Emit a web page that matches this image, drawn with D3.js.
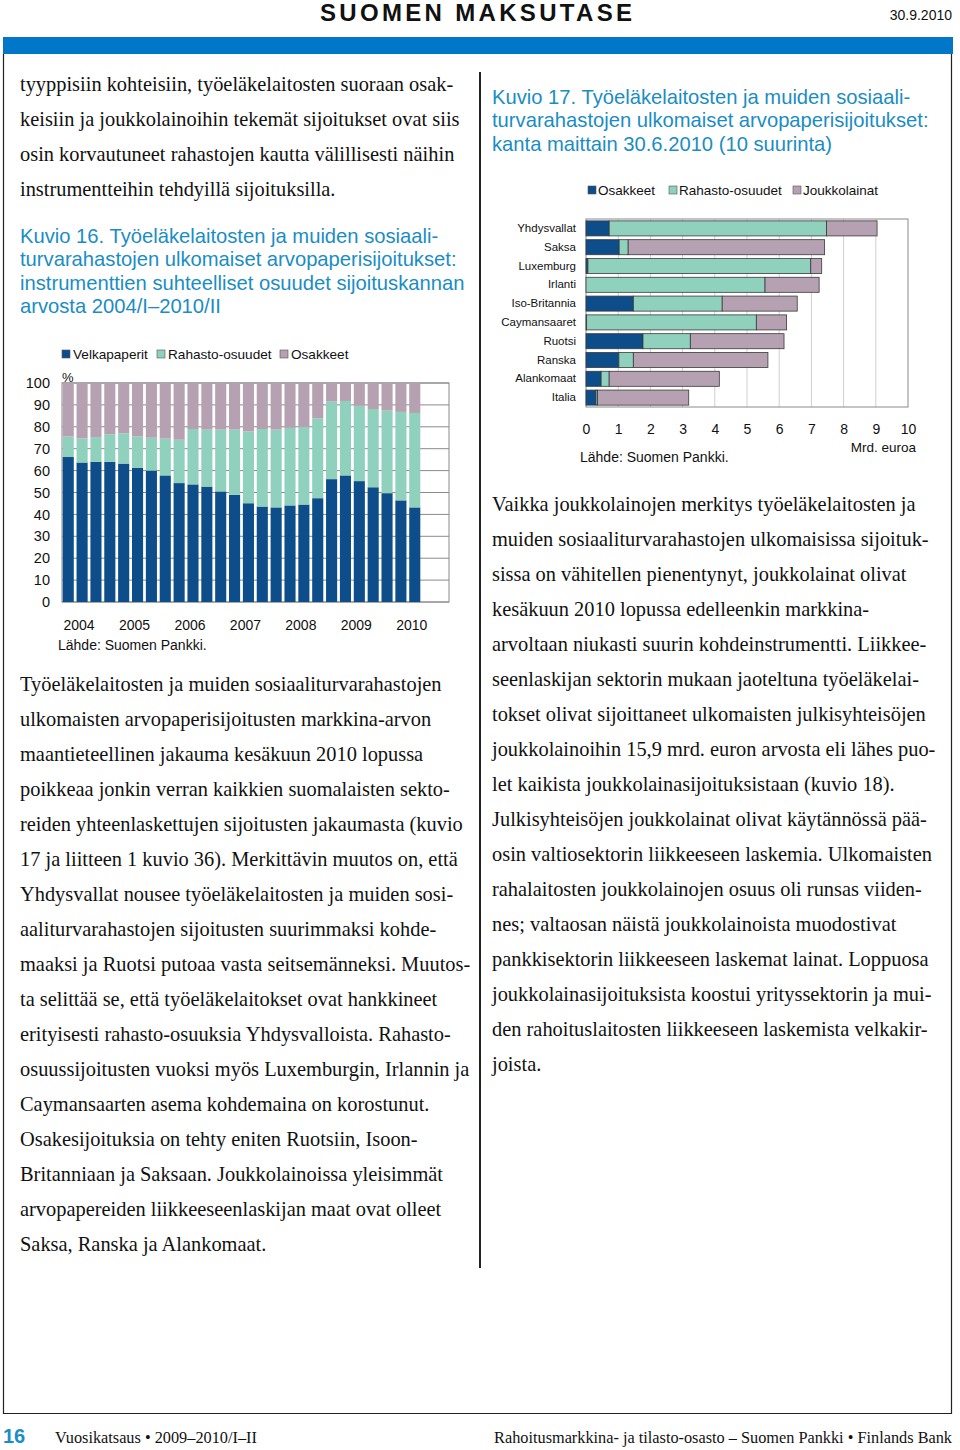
<!DOCTYPE html>
<html><head><meta charset="utf-8">
<script src="https://cdn.jsdelivr.net/npm/d3@7"></script>
<style>
body{margin:0;background:#fff;}
svg{display:block;}
.serif{font-family:"Liberation Serif","Times New Roman",serif;}
.sans{font-family:"Liberation Sans",Arial,sans-serif;}
</style></head>
<body>
<svg id="page" width="960" height="1450"></svg>
<script>
// ---------- DATA ----------
const quarters = ["2004/I","2004/II","2004/III","2004/IV","2005/I","2005/II","2005/III","2005/IV",
  "2006/I","2006/II","2006/III","2006/IV","2007/I","2007/II","2007/III","2007/IV",
  "2008/I","2008/II","2008/III","2008/IV","2009/I","2009/II","2009/III","2009/IV","2010/I","2010/II"];
const velkapaperit = [66.2,63.7,64.0,64.0,63.2,61.2,60.0,57.8,54.3,53.7,52.7,50.5,48.9,45.1,43.6,43.2,44.1,44.5,47.4,56.1,57.8,55.2,52.4,49.7,46.4,43.2];
const rahastoosuudet16 = [9.4,11.0,11.3,12.6,13.8,14.4,15.0,16.8,19.8,25.3,26.0,28.2,29.8,32.8,35.4,35.5,35.4,35.4,36.5,35.4,34.0,34.4,35.7,37.7,40.4,43.1];
const osakkeet16 = [24.4,25.3,24.7,23.4,23.0,24.4,25.0,25.4,25.9,21.0,21.3,21.3,21.3,22.1,21.0,21.3,20.5,20.1,16.1,8.5,8.2,10.4,11.9,12.6,13.2,13.7];
const yearLabels = ["2004","2005","2006","2007","2008","2009","2010"];
const yTicks16 = [0,10,20,30,40,50,60,70,80,90,100];

const countries = ["Yhdysvallat","Saksa","Luxemburg","Irlanti","Iso-Britannia","Caymansaaret","Ruotsi","Ranska","Alankomaat","Italia"];
const osakkeet17 = [0.72,1.03,0.06,0.0,1.47,0.02,1.77,1.02,0.47,0.31];
const rahasto17 = [6.75,0.28,6.92,5.56,2.76,5.27,1.47,0.45,0.25,0.05];
const joukkolainat17 = [1.57,6.10,0.34,1.68,2.33,0.94,2.91,4.18,3.42,2.83];
const xTicks17 = [0,1,2,3,4,5,6,7,8,9,10];

// ---------- TEXTS ----------
const textTopLeft = ["tyyppisiin kohteisiin, työeläkelaitosten suoraan osak-",
"keisiin ja joukkolainoihin tekemät sijoitukset ovat siis",
"osin korvautuneet rahastojen kautta välillisesti näihin",
"instrumentteihin tehdyillä sijoituksilla."];
const textLeft = ["Työeläkelaitosten ja muiden sosiaaliturvarahastojen",
"ulkomaisten arvopaperisijoitusten markkina-arvon",
"maantieteellinen jakauma kesäkuun 2010 lopussa",
"poikkeaa jonkin verran kaikkien suomalaisten sekto-",
"reiden yhteenlaskettujen sijoitusten jakaumasta (kuvio",
"17 ja liitteen 1 kuvio 36). Merkittävin muutos on, että",
"Yhdysvallat nousee työeläkelaitosten ja muiden sosi-",
"aaliturvarahastojen sijoitusten suurimmaksi kohde-",
"maaksi ja Ruotsi putoaa vasta seitsemänneksi. Muutos-",
"ta selittää se, että työeläkelaitokset ovat hankkineet",
"erityisesti rahasto-osuuksia Yhdysvalloista. Rahasto-",
"osuussijoitusten vuoksi myös Luxemburgin, Irlannin ja",
"Caymansaarten asema kohdemaina on korostunut.",
"Osakesijoituksia on tehty eniten Ruotsiin, Isoon-",
"Britanniaan ja Saksaan. Joukkolainoissa yleisimmät",
"arvopapereiden liikkeeseenlaskijan maat ovat olleet",
"Saksa, Ranska ja Alankomaat."];
const textRight = ["Vaikka joukkolainojen merkitys työeläkelaitosten ja",
"muiden sosiaaliturvarahastojen ulkomaisissa sijoituk-",
"sissa on vähitellen pienentynyt, joukkolainat olivat",
"kesäkuun 2010 lopussa edelleenkin markkina-",
"arvoltaan niukasti suurin kohdeinstrumentti. Liikkee-",
"seenlaskijan sektorin mukaan jaoteltuna työeläkelai-",
"tokset olivat sijoittaneet ulkomaisten julkisyhteisöjen",
"joukkolainoihin 15,9 mrd. euron arvosta eli lähes puo-",
"let kaikista joukkolainasijoituksistaan (kuvio 18).",
"Julkisyhteisöjen joukkolainat olivat käytännössä pää-",
"osin valtiosektorin liikkeeseen laskemia. Ulkomaisten",
"rahalaitosten joukkolainojen osuus oli runsas viiden-",
"nes; valtaosan näistä joukkolainoista muodostivat",
"pankkisektorin liikkeeseen laskemat lainat. Loppuosa",
"joukkolainasijoituksista koostui yrityssektorin ja mui-",
"den rahoituslaitosten liikkeeseen laskemista velkakir-",
"joista."];
const title16 = ["Kuvio 16. Työeläkelaitosten ja muiden sosiaali-",
"turvarahastojen ulkomaiset arvopaperisijoitukset:",
"instrumenttien suhteelliset osuudet sijoituskannan",
"arvosta 2004/I–2010/II"];
const title17 = ["Kuvio 17. Työeläkelaitosten ja muiden sosiaali-",
"turvarahastojen ulkomaiset arvopaperisijoitukset:",
"kanta maittain 30.6.2010 (10 suurinta)"];

// ---------- STYLE ----------
const C_DARK = "#0d4d8a", C_TEAL = "#8fd1bd", C_MAUVE = "#b6a1b2";
const C_TITLE = "#1a8dc4", C_BAND = "#0077c8";

const svg = d3.select("#page");

// header
svg.append("text").attr("class","sans").attr("x",320).attr("y",21)
  .attr("font-size",24).attr("font-weight","bold").attr("fill","#111")
  .attr("textLength",312).attr("lengthAdjust","spacing").text("SUOMEN MAKSUTASE");
svg.append("text").attr("class","sans").attr("x",952).attr("y",20).attr("text-anchor","end")
  .attr("font-size",14).attr("fill","#111").text("30.9.2010");
svg.append("rect").attr("x",3).attr("y",37).attr("width",950).attr("height",17).attr("fill",C_BAND);
// frame
svg.append("path").attr("d","M3.5,54 V1413.5 H951.5 V54").attr("fill","none").attr("stroke","#222").attr("stroke-width",1.2);
svg.append("line").attr("x1",480).attr("x2",480).attr("y1",72).attr("y2",1268).attr("stroke","#222").attr("stroke-width",2);

// text blocks
function block(lines, x, y0, cls, size, lh, fill){
  svg.append("g").selectAll("text").data(lines).join("text")
    .attr("class",cls).attr("x",x).attr("y",(d,i)=>y0+i*lh)
    .attr("font-size",size).attr("fill",fill).text(d=>d);
}
block(textTopLeft,20,91,"serif",20.4,35,"#111");
block(textLeft,20,691,"serif",20.4,35,"#111");
block(textRight,492,511,"serif",20.4,35,"#111");
block(title16,20,243,"sans",20.2,23.3,C_TITLE);
block(title17,492,104,"sans",20.2,23.3,C_TITLE);

// footer
svg.append("text").attr("class","sans").attr("x",3).attr("y",1443).attr("font-size",20)
  .attr("font-weight","bold").attr("fill",C_TITLE).text("16");
svg.append("text").attr("class","serif").attr("x",55).attr("y",1443).attr("font-size",16.3).attr("fill","#111")
  .text("Vuosikatsaus • 2009–2010/I–II");
svg.append("text").attr("class","serif").attr("x",952).attr("y",1443).attr("font-size",16.3).attr("fill","#111")
  .attr("text-anchor","end").text("Rahoitusmarkkina- ja tilasto-osasto – Suomen Pankki • Finlands Bank");

// ---------- KUVIO 16 ----------
(function(){
  const left=62, right=449, top=383, bottom=602;
  const x = d3.scaleBand().domain(quarters).range([left, 421]).paddingInner(0.2).paddingOuter(0.05);
  const y = d3.scaleLinear().domain([0,100]).range([bottom, top]);
  const g = svg.append("g").attr("class","sans");
  // grid
  g.append("g").selectAll("line").data(yTicks16).join("line")
    .attr("x1",left).attr("x2",right).attr("y1",d=>y(d)).attr("y2",d=>y(d))
    .attr("stroke","#8a8a8a").attr("stroke-width",1);
  g.append("rect").attr("x",left).attr("y",top).attr("width",right-left).attr("height",bottom-top)
    .attr("fill","none").attr("stroke","#8a8a8a").attr("stroke-width",1);
  const rows = quarters.map((q,i)=>({q, v:velkapaperit[i], r:rahastoosuudet16[i], o:osakkeet16[i]}));
  const stack = d3.stack().keys(["v","r","o"])(rows);
  const colors = {v:C_DARK, r:C_TEAL, o:C_MAUVE};
  g.append("g").selectAll("g").data(stack).join("g").attr("fill",d=>colors[d.key])
    .selectAll("rect").data(d=>d).join("rect")
    .attr("x",d=>x(d.data.q)).attr("width",x.bandwidth())
    .attr("y",d=>y(d[1])).attr("height",d=>y(d[0])-y(d[1]));
  // y axis
  const ya = g.append("g").attr("transform",`translate(${left},0)`)
    .call(d3.axisLeft(y).tickValues(yTicks16).tickSize(0).tickPadding(12));
  ya.select(".domain").remove();
  ya.selectAll("text").attr("font-size",14.5).attr("fill","#111").attr("font-family","Liberation Sans, Arial, sans-serif");
  // year labels
  g.append("g").selectAll("text").data(yearLabels).join("text")
    .attr("x",(d,i)=>x(quarters[i*4+1]) + x.bandwidth()/2 - 3)
    .attr("y",630).attr("text-anchor","middle").attr("font-size",14).attr("fill","#111").text(d=>d);
  g.append("text").attr("x",58).attr("y",650).attr("font-size",14).attr("fill","#111").text("Lähde: Suomen Pankki.");
  g.append("text").attr("x",62).attr("y",382).attr("font-size",13).attr("fill","#111").text("%");
  // legend
  const leg = [["Velkapaperit",C_DARK,62],["Rahasto-osuudet",C_TEAL,157],["Osakkeet",C_MAUVE,280]];
  const lg = g.append("g").selectAll("g").data(leg).join("g").attr("transform",d=>`translate(${d[2]},350)`);
  lg.append("rect").attr("width",8).attr("height",8).attr("fill",d=>d[1]).attr("stroke","#555").attr("stroke-width",0.6);
  lg.append("text").attr("x",11).attr("y",9).attr("font-size",13.6).attr("fill","#111").text(d=>d[0]);
})();

// ---------- KUVIO 17 ----------
(function(){
  const left=586, right=908, top=219, bottom=407;
  const x = d3.scaleLinear().domain([0,10]).range([left,right]);
  const y = d3.scaleBand().domain(countries).range([top,bottom]).paddingInner(0.2).paddingOuter(0.1);
  const g = svg.append("g").attr("class","sans");
  g.append("g").selectAll("line").data(xTicks17.slice(1,-1)).join("line")
    .attr("x1",d=>x(d)).attr("x2",d=>x(d)).attr("y1",top).attr("y2",bottom)
    .attr("stroke","#cfcfcf").attr("stroke-width",1);
  g.append("rect").attr("x",left).attr("y",top).attr("width",right-left).attr("height",bottom-top)
    .attr("fill","none").attr("stroke","#8a8a8a").attr("stroke-width",1);
  const rows = countries.map((c,i)=>({c, o:osakkeet17[i], r:rahasto17[i], j:joukkolainat17[i]}));
  const stack = d3.stack().keys(["o","r","j"])(rows);
  const colors = {o:C_DARK, r:C_TEAL, j:C_MAUVE};
  g.append("g").selectAll("g").data(stack).join("g").attr("fill",d=>colors[d.key])
    .selectAll("rect").data(d=>d.filter(s=>s[1]-s[0]>0)).join("rect")
    .attr("x",d=>x(d[0])).attr("width",d=>x(d[1])-x(d[0]))
    .attr("y",d=>y(d.data.c)).attr("height",y.bandwidth())
    .attr("stroke","#3a3a3a").attr("stroke-width",0.8);
  // y labels
  const ya = g.append("g").attr("transform",`translate(${left},0)`)
    .call(d3.axisLeft(y).tickSize(0).tickPadding(10));
  ya.select(".domain").remove();
  ya.selectAll("text").attr("font-size",11.5).attr("fill","#111").attr("font-family","Liberation Sans, Arial, sans-serif");
  // x labels
  const xa = g.append("g").attr("transform",`translate(0,${bottom})`)
    .call(d3.axisBottom(x).tickValues(xTicks17).tickSize(0).tickPadding(17).tickFormat(d3.format("d")));
  xa.select(".domain").remove();
  xa.selectAll("text").attr("font-size",14).attr("fill","#111").attr("font-family","Liberation Sans, Arial, sans-serif");
  g.append("text").attr("x",916).attr("y",452).attr("text-anchor","end").attr("font-size",13.5).attr("fill","#111").text("Mrd. euroa");
  g.append("text").attr("x",580).attr("y",462).attr("font-size",14).attr("fill","#111").text("Lähde: Suomen Pankki.");
  const leg = [["Osakkeet",C_DARK,588],["Rahasto-osuudet",C_TEAL,669],["Joukkolainat",C_MAUVE,793]];
  const lg = g.append("g").selectAll("g").data(leg).join("g").attr("transform",d=>`translate(${d[2]},186)`);
  lg.append("rect").attr("width",8).attr("height",8).attr("fill",d=>d[1]).attr("stroke","#555").attr("stroke-width",0.6);
  lg.append("text").attr("x",10).attr("y",9).attr("font-size",13.5).attr("fill","#111").text(d=>d[0]);
})();
</script>
</body></html>
